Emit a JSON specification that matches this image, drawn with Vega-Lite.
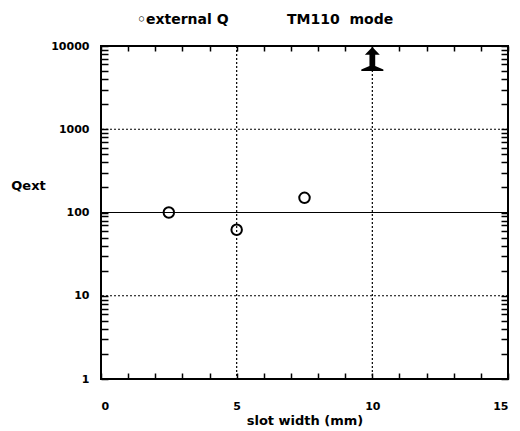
{
  "$schema": "https://vega.github.io/schema/vega-lite/v6.json",
  "width": 407,
  "height": 333,
  "autosize": "none",
  "padding": {"left": 101, "top": 46, "right": 12, "bottom": 52},
  "background": "white",
  "config": {
    "view": {"stroke": "black", "strokeWidth": 2},
    "font": "DejaVu Sans",
    "axis": {"labelFont": "DejaVu Sans", "labelFontWeight": "bold", "labelFontSize": 11, "labelColor": "black", "titleFont": "DejaVu Sans", "titleFontWeight": "bold", "titleFontSize": 13, "titleColor": "black", "domain": false, "grid": false, "tickColor": "black", "tickWidth": 1.5}
  },
  "title": {
    "text": "◦external Q\u00a0\u00a0\u00a0\u00a0\u00a0\u00a0\u00a0\u00a0\u00a0\u00a0\u00a0\u00a0TM110\u00a0\u00a0mode",
    "frame": "group", "anchor": "start", "dx": 36, "offset": 13,
    "font": "DejaVu Sans", "fontWeight": "bold", "fontSize": 14, "color": "black"
  },
  "datasets": {
    "vgrid": [{"x": 5}, {"x": 10}],
    "hgridDot": [{"y": 10}, {"y": 1000}],
    "hgridSolid": [{"y": 100}],
    "qext": [{"slot": 2.5, "Q": 100}, {"slot": 5, "Q": 62}, {"slot": 7.5, "Q": 150}],
    "arrow": [{"slot": 10, "Q": 7000}]
  },
  "resolve": {"axis": {"x": "independent", "y": "independent"}},
  "layer": [
    {
      "data": {"name": "vgrid"},
      "mark": {"type": "rule", "strokeDash": [2, 2], "strokeWidth": 1.2, "color": "black"},
      "encoding": {
        "x": {"field": "x", "type": "quantitative", "scale": {"domain": [0, 15], "nice": false},
          "axis": {"orient": "bottom", "offset": -6, "tickSize": 6, "values": [0,1,2,3,4,5,6,7,8,9,10,11,12,13,14,15], "labelExpr": "datum.value % 5 === 0 ? datum.label : ''", "labelPadding": 21, "title": "slot width (mm)", "titlePadding": 3}}
      }
    },
    {
      "data": {"name": "hgridDot"},
      "mark": {"type": "rule", "strokeDash": [2, 2], "strokeWidth": 1.2, "color": "black"},
      "encoding": {
        "y": {"field": "y", "type": "quantitative", "scale": {"type": "log", "domain": [1, 10000], "nice": false},
          "axis": {"orient": "left", "offset": -7, "tickSize": 7, "values": [1,2,3,4,5,6,7,8,9,10,20,30,40,50,60,70,80,90,100,200,300,400,500,600,700,800,900,1000,2000,3000,4000,5000,6000,7000,8000,9000,10000],
            "labelExpr": "indexof([1,10,100,1000,10000], datum.value) >= 0 ? format(datum.value, 'd') : ''",
            "labelPadding": 12, "title": "Qext", "titleAngle": 0, "titleAlign": "center", "titleBaseline": "middle", "titleX": -80, "titleY": 139}}
      }
    },
    {
      "data": {"name": "hgridSolid"},
      "mark": {"type": "rule", "strokeWidth": 1.2, "color": "black"},
      "encoding": {
        "y": {"field": "y", "type": "quantitative", "axis": {"orient": "right", "offset": -7, "tickSize": 7, "values": [1,2,3,4,5,6,7,8,9,10,20,30,40,50,60,70,80,90,100,200,300,400,500,600,700,800,900,1000,2000,3000,4000,5000,6000,7000,8000,9000,10000], "labels": false, "title": null}}
      }
    },
    {
      "data": {"name": "qext"},
      "mark": {"type": "point", "shape": "circle", "filled": false, "color": "black", "strokeWidth": 2, "size": 110, "opacity": 1},
      "encoding": {
        "x": {"field": "slot", "type": "quantitative", "axis": {"orient": "top", "offset": -5, "tickSize": 5, "values": [0,1,2,3,4,5,6,7,8,9,10,11,12,13,14,15], "labels": false, "title": null}},
        "y": {"field": "Q", "type": "quantitative", "axis": null}
      }
    },
    {
      "data": {"name": "arrow"},
      "mark": {"type": "point", "shape": "M0,-1 L0.62,-0.35 L0.24,-0.35 L0.24,0.6 L0.92,0.88 L0.92,1 L-0.92,1 L-0.92,0.88 L-0.24,0.6 L-0.24,-0.35 L-0.62,-0.35 Z", "filled": true, "color": "black", "size": 576, "opacity": 1},
      "encoding": {
        "x": {"field": "slot", "type": "quantitative", "axis": null},
        "y": {"field": "Q", "type": "quantitative", "axis": null}
      }
    }
  ]
}
